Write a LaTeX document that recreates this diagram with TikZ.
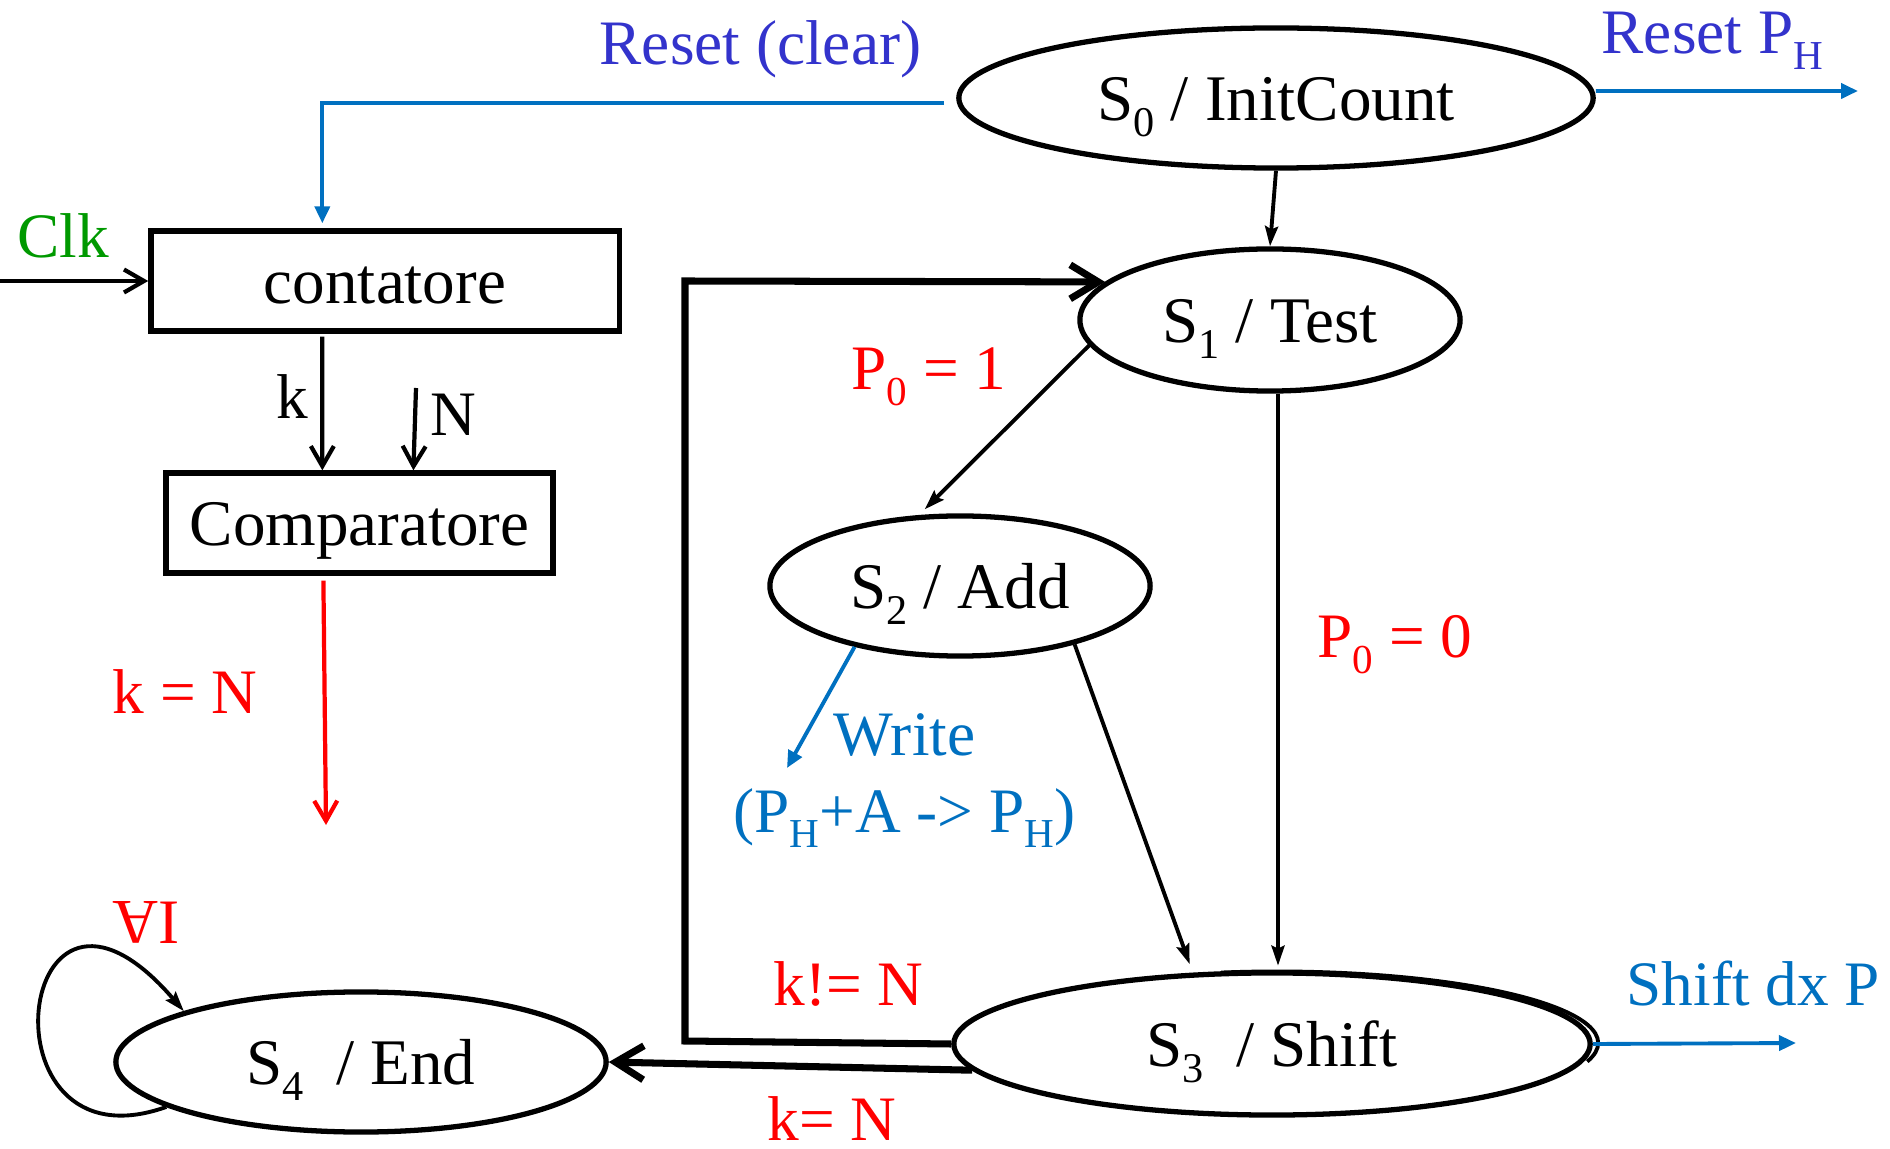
\documentclass[tikz,border=0pt]{standalone}
\usepackage{fontspec}
\setmainfont{Liberation Serif}
\usetikzlibrary{arrows.meta,shapes.geometric,calc}

\definecolor{resetblue}{RGB}{51,51,204}
\definecolor{sigblue}{RGB}{0,112,192}
\definecolor{condred}{RGB}{255,0,0}
\definecolor{clkgreen}{RGB}{0,153,0}

% lowered, reduced index in the style of the state names
\newcommand{\lowsub}[1]{\raisebox{-0.25em}{\scalebox{0.65}{#1}}}

\begin{document}
\begin{tikzpicture}[x=0.01cm,y=-0.01cm,
  state/.style={ellipse, draw, line width=1.5pt, inner sep=0pt,
    font=\fontsize{18.5}{22}\selectfont, text height=12.6pt, text depth=0pt},
  blockbox/.style={rectangle, draw, line width=1.5pt, inner sep=0pt,
    font=\fontsize{18.5}{22}\selectfont, text height=13pt, text depth=0pt},
  lbl/.style={inner sep=0pt, anchor=base west, font=\fontsize{18}{22}\selectfont},
  flow/.style={draw, line width=1.1pt, -{Stealth[length=0.2cm,width=0.13cm,inset=0.03cm]}},
  heavy/.style={draw, line width=2pt, line join=miter,
    -{Straight Barb[length=0.28cm,width=0.34cm]}},
  medarrow/.style={draw, line width=1.2pt, -{Straight Barb[length=0.2cm,width=0.23cm]}},
  blueflow/.style={draw=sigblue, line width=1.1pt,
    -{Triangle[length=0.17cm,width=0.15cm]}},
]
\useasboundingbox (0,0) rectangle (1890,1149);

% ---- states ----
\node[state, minimum width=6.34cm, minimum height=1.40cm] (S0) at (1276,98) {S\lowsub{0} / InitCount};
\node[state, minimum width=3.80cm, minimum height=1.42cm] (S1) at (1270,320) {S\lowsub{1} / Test};
\node[state, minimum width=3.80cm, minimum height=1.40cm] (S2) at (960,586) {S\lowsub{2} / Add};
\node[state, minimum width=6.36cm, minimum height=1.42cm] (S3) at (1272,1044) {S\lowsub{3}\hspace{0.5em}/ Shift};
\node[state, minimum width=4.90cm, minimum height=1.40cm] (S4) at (361,1062) {S\lowsub{4}\hspace{0.5em}/ End};

% doubled outline on the upper right of S3
\draw[line width=1.1pt] ([xshift=0.05cm,yshift=0.01cm]S3.center) ++(-15:3.21cm and 0.715cm)
  arc[start angle=-15, end angle=100, x radius=3.21cm, y radius=0.715cm];

% ---- counter and comparator ----
\node[blockbox, minimum width=4.68cm, minimum height=1.0cm] (cont) at (385,281) {contatore};
\node[blockbox, minimum width=3.87cm, minimum height=1.0cm] (comp) at (359.5,523) {Comparatore};

% ---- free ends of signals ----
\coordinate (clkin) at (0,281);
\coordinate (rs) at (944,103);
\coordinate (nin) at (416,388);
\coordinate (kend) at (326,825);
\coordinate (phend) at (1858,91);
\coordinate (shend) at (1796,1043);
\coordinate (wend) at (787,768);
\coordinate (lpb) at (685,1041);
\coordinate (lpt) at (685,281);

% ---- datapath signals ----
\draw[medarrow] (clkin) -- (cont.west);
\draw[blueflow, shorten >=0.05cm] (rs) -| ([xshift=1.74cm]cont.north west);
\draw[medarrow, shorten <=0.03cm] ([xshift=1.74cm]cont.south west) -- ([xshift=1.59cm]comp.north west);
\draw[medarrow] (nin) -- ([xshift=2.5cm]comp.north west);
\draw[medarrow, draw=condred, shorten <=0.05cm] ([xshift=1.6cm]comp.south west) -- (kend);

% ---- transitions ----
\draw[flow] (S0.south) -- (S1.north);
\draw[flow, shorten >=0.08cm] (S1.188) -- (S2.120);
\draw[flow, shorten >=0.09cm] (S2.-27) -- (S3.138);
\draw[flow] ([xshift=0.08cm]S1.south) -- ++(0,572);
\draw[heavy] (S3.west) -- (lpb) -- (lpt) -- (S1.167);
\draw[heavy] (S3.185) -- (S4.east);
\draw[flow] (S4.193) .. controls (-25,1175) and (15,815) .. (S4.164);

% ---- outputs ----
\draw[blueflow] ([yshift=0.07cm]S0.east) -- (phend);
\draw[blueflow] (S3.east) -- (shend);
\draw[blueflow] (S2.210) -- (wend);

% ---- labels ----
\node[lbl, text=resetblue] (lreset) at (599,65) {Reset (clear)};
\node[lbl, text=resetblue] (lresetph) at (1601,54) {Reset P\lowsub{H}};
\node[lbl, text=clkgreen] (lclk) at (17,258) {Clk};
\node[lbl] (lk) at (276,419) {k};
\node[lbl] (ln) at (430,436) {N};
\node[lbl, text=condred] (lp1) at (851,390) {P\lowsub{0} = 1};
\node[lbl, text=condred] (lkn) at (112,714) {k = N};
\node[lbl, text=condred] (lall) at (112,943) {\rotatebox[origin=c]{180}{A}I};
\node[lbl, text=sigblue] (lwrite) at (833,755) {Write};
\node[lbl, text=sigblue] (lsum) at (733,832) {(P\lowsub{H}+A -\textgreater{} P\lowsub{H})};
\node[lbl, text=condred] (lp0) at (1317,658) {P\lowsub{0} = 0};
\node[lbl, text=condred] (lkne) at (773,1005) {k!= N};
\node[lbl, text=condred] (lkeq) at (767,1140) {k= N};
\node[lbl, text=sigblue] (lshift) at (1626,1005) {Shift dx P};
\end{tikzpicture}
\end{document}
